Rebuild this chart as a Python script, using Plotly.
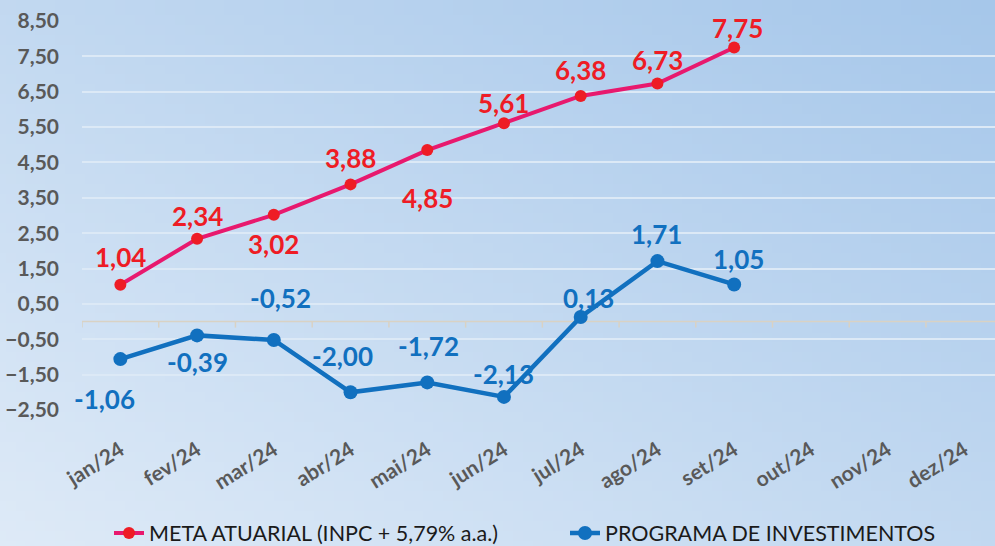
import base64, struct, zlib
import plotly.graph_objects as go

months = ["jan/24", "fev/24", "mar/24", "abr/24", "mai/24", "jun/24",
          "jul/24", "ago/24", "set/24", "out/24", "nov/24", "dez/24"]
meta = [1.04, 2.34, 3.02, 3.88, 4.85, 5.61, 6.38, 6.73, 7.75]
prog = [-1.06, -0.39, -0.52, -2.00, -1.72, -2.13, 0.13, 1.71, 1.05]
y_ticks = [-2.5, -1.5, -0.5, 0.5, 1.5, 2.5, 3.5, 4.5, 5.5, 6.5, 7.5, 8.5]

name_meta = "META ATUARIAL (INPC + 5,79% a.a.)"
name_prog = "PROGRAMA DE INVESTIMENTOS"

# label offsets (px) – styling
meta_off = [(0, 28), (0, 23), (0, -29), (0, 26), (0, -48), (0, 20), (0, 26), (0, 24), (3, 20)]
prog_off = [(-16, -40), (0, -27), (7, 42), (-8, 36), (1, 36), (0, 23), (8, 19), (-1, 27), (4, 25)]

W, H = 995, 546
L, R, T, B = 82, 0, 21, 136
pw, ph = W - L - R, H - T - B

# diagonal gradient background as PNG
def make_png(w, h):
    bl = (222, 234, 247)
    tr = (166, 199, 234)
    rows = b""
    for j in range(h):
        v = j / (h - 1)
        row = b"\x00"
        for i in range(w):
            u = i / (w - 1)
            t = (u + (1 - v)) / 2
            row += bytes(int(round(bl[k] + (tr[k] - bl[k]) * t)) for k in range(3))
        rows += row
    def chunk(tag, data):
        c = struct.pack(">I", len(data)) + tag + data
        return c + struct.pack(">I", zlib.crc32(tag + data) & 0xffffffff)
    png = b"\x89PNG\r\n\x1a\n"
    png += chunk(b"IHDR", struct.pack(">IIBBBBB", w, h, 8, 2, 0, 0, 0))
    png += chunk(b"IDAT", zlib.compress(rows, 9))
    png += chunk(b"IEND", b"")
    return "data:image/png;base64," + base64.b64encode(png).decode()

bg = make_png(100, 55)

RED = "#ee1c25"
PINK = "#e8196e"
BLUE = "#1170bf"

fig = go.Figure()
fig.add_trace(go.Scatter(
    x=months[:len(meta)], y=meta, name=name_meta, mode="lines+markers",
    line=dict(color=PINK, width=4), marker=dict(color=RED, size=12), legend="legend",
))
fig.add_trace(go.Scatter(
    x=months[:len(prog)], y=prog, name=name_prog, mode="lines+markers",
    line=dict(color=BLUE, width=4.5), marker=dict(color=BLUE, size=14), legend="legend2",
))

def fmt(v):
    return f"{v:.2f}".replace(".", ",")

ann = []
for i, v in enumerate(meta):
    dx, dy = meta_off[i]
    ann.append(dict(x=months[i], y=v, text=fmt(v), showarrow=False, xshift=dx, yshift=dy,
                    font=dict(family="Lato", size=26, color=RED, weight="bold")))
for i, v in enumerate(prog):
    dx, dy = prog_off[i]
    ann.append(dict(x=months[i], y=v, text=fmt(v), showarrow=False, xshift=dx, yshift=dy,
                    font=dict(family="Lato", size=26, color=BLUE, weight="bold")))

shapes = [dict(type="line", xref="paper", yref="y", x0=0, x1=1, y0=0, y1=0,
               line=dict(color="#d9d2c4", width=1.5), layer="below")]
for i in range(len(months) + 1):
    shapes.append(dict(type="line", xref="x", yref="y", x0=i - 0.5, x1=i - 0.5, y0=0, y1=-0.17,
                       line=dict(color="#d9d2c4", width=1.5), layer="below"))

leg_font = dict(family="Lato", size=21.5, color="#1a1a1a")
leg_y = (ph - (533 - T)) / ph

fig.update_layout(
    width=W, height=H,
    margin=dict(l=L, r=R, t=T, b=B, autoexpand=False),
    paper_bgcolor="#cfe0f2", plot_bgcolor="rgba(0,0,0,0)",
    separators=",.",
    images=[dict(source=bg, xref="paper", yref="paper", x=-L / pw, y=1 + T / ph,
                 sizex=W / pw, sizey=H / ph, sizing="stretch", layer="below",
                 xanchor="left", yanchor="top")],
    xaxis=dict(type="category", categoryarray=months, categoryorder="array",
               tickvals=months, range=[-0.5, 11.4], showgrid=False, zeroline=False,
               showline=False, tickangle=-32, ticks="", automargin=False,
               ticklabelstandoff=23,
               tickfont=dict(family="Lato", size=21, color="#595959", weight="bold")),
    yaxis=dict(range=[-2.5, 8.5], tickvals=y_ticks, tickformat=".2f", automargin=False,
               showgrid=True, gridcolor="#dce9f6", gridwidth=2, zeroline=False,
               showline=False, ticks="", ticklabelstandoff=22,
               tickfont=dict(family="Lato", size=21, color="#595959", weight="bold")),
    shapes=shapes,
    annotations=ann,
    legend=dict(orientation="h", x=(109 - L) / pw, xanchor="left",
                y=leg_y, yanchor="middle", bgcolor="rgba(0,0,0,0)", font=leg_font),
    legend2=dict(orientation="h", x=(565 - L) / pw, xanchor="left",
                 y=leg_y, yanchor="middle", bgcolor="rgba(0,0,0,0)", font=leg_font),
    showlegend=True,
)

fig.write_html("out.html", config={"displayModeBar": False},
               post_script="document.body.style.margin='0';document.body.style.overflow='hidden';")
